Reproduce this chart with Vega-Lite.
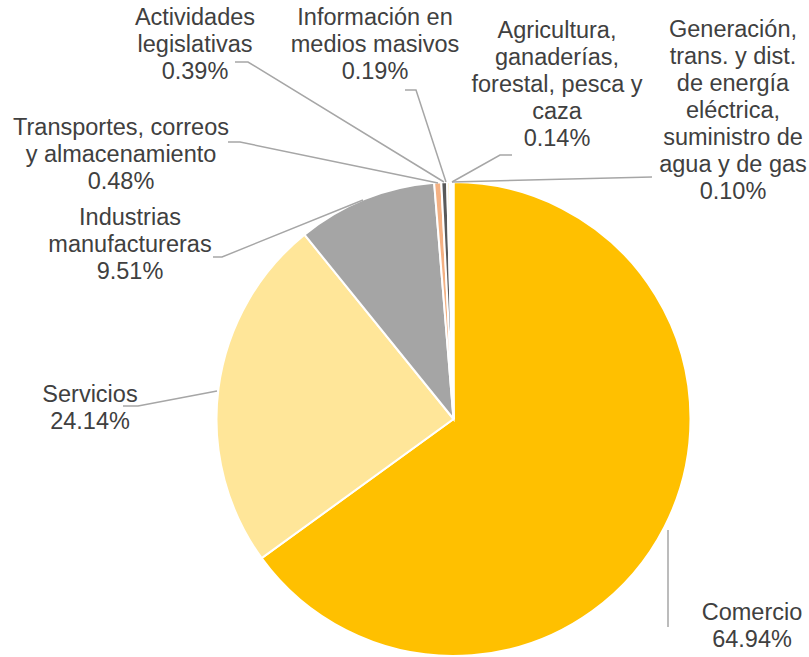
{
  "$schema": "https://vega.github.io/schema/vega-lite/v6.json",
  "autosize": {"type": "none"},
  "width": 474,
  "height": 474,
  "padding": {"left": 216.5, "top": 182, "right": 118.5, "bottom": 1},
  "background": "white",
  "config": {"view": {"stroke": null}},
  "datasets": {
    "slices": [
      {"sector": "Comercio", "value": 64.94, "ord": 1, "lbl": "Comercio\n64.94%", "lx": 298.5, "ly": -194},
      {"sector": "Servicios", "value": 24.14, "ord": 2, "lbl": "Servicios\n24.14%", "lx": -363.5, "ly": 24},
      {"sector": "Industrias manufactureras", "value": 9.51, "ord": 3, "lbl": "Industrias\nmanufactureras\n9.51%", "lx": -323.5, "ly": 201},
      {"sector": "Transportes, correos y almacenamiento", "value": 0.48, "ord": 4, "lbl": "Transportes, correos\ny almacenamiento\n0.48%", "lx": -332.5, "ly": 291},
      {"sector": "Actividades legislativas", "value": 0.39, "ord": 5, "lbl": "Actividades\nlegislativas\n0.39%", "lx": -258.5, "ly": 401},
      {"sector": "Información en medios masivos", "value": 0.19, "ord": 6, "lbl": "Información en\nmedios masivos\n0.19%", "lx": -78.5, "ly": 401},
      {"sector": "Agricultura, ganaderías, forestal, pesca y caza", "value": 0.14, "ord": 7, "lbl": "Agricultura,\nganaderías,\nforestal, pesca y\ncaza\n0.14%", "lx": 103.5, "ly": 388},
      {"sector": "Generación, trans. y dist. de energía eléctrica, suministro de agua y de gas", "value": 0.10, "ord": 8, "lbl": "Generación,\ntrans. y dist.\nde energía\neléctrica,\nsuministro de\nagua y de gas\n0.10%", "lx": 279.5, "ly": 389}
    ],
    "leaders": [
      {"g": "act", "o": 1, "x": -218.5, "y": 357},
      {"g": "act", "o": 2, "x": -205.5, "y": 357},
      {"g": "act", "o": 3, "x": -9.5, "y": 237},
      {"g": "inf", "o": 1, "x": -48.5, "y": 329},
      {"g": "inf", "o": 2, "x": -37.5, "y": 329},
      {"g": "inf", "o": 3, "x": -7.5, "y": 237},
      {"g": "tra", "o": 1, "x": -225.5, "y": 277},
      {"g": "tra", "o": 2, "x": -213.5, "y": 277},
      {"g": "tra", "o": 3, "x": -15.5, "y": 236},
      {"g": "ind", "o": 1, "x": -240.5, "y": 162},
      {"g": "ind", "o": 2, "x": -231.5, "y": 162},
      {"g": "ind", "o": 3, "x": -90.5, "y": 219},
      {"g": "agr", "o": 1, "x": 58.5, "y": 264},
      {"g": "agr", "o": 2, "x": 46.5, "y": 264},
      {"g": "agr", "o": 3, "x": -1.5, "y": 237},
      {"g": "gen", "o": 1, "x": 198.5, "y": 242},
      {"g": "gen", "o": 2, "x": -1.5, "y": 237},
      {"g": "ser", "o": 1, "x": -330.5, "y": 13},
      {"g": "ser", "o": 2, "x": -315.5, "y": 13},
      {"g": "ser", "o": 3, "x": -236.5, "y": 28},
      {"g": "com", "o": 1, "x": 214.5, "y": -111},
      {"g": "com", "o": 2, "x": 214.5, "y": -208}
    ]
  },
  "layer": [
    {
      "data": {"name": "slices"},
      "mark": {"type": "arc", "stroke": "white", "strokeWidth": 2},
      "encoding": {
        "theta": {"field": "value", "type": "quantitative", "stack": true},
        "order": {"field": "ord", "type": "quantitative"},
        "color": {
          "field": "sector", "type": "nominal", "legend": null,
          "scale": {
            "domain": ["Comercio", "Servicios", "Industrias manufactureras", "Transportes, correos y almacenamiento", "Actividades legislativas", "Información en medios masivos", "Agricultura, ganaderías, forestal, pesca y caza", "Generación, trans. y dist. de energía eléctrica, suministro de agua y de gas"],
            "range": ["#FFC000", "#FFE699", "#A5A5A5", "#F4B183", "#595959", "#FFF2CC", "#FBE5D6", "#EDEDED"]
          }
        }
      }
    },
    {
      "data": {"name": "leaders"},
      "mark": {"type": "line", "color": "#A6A6A6", "strokeWidth": 1.5},
      "encoding": {
        "x": {"field": "x", "type": "quantitative", "scale": {"domain": [-237, 237]}, "axis": null},
        "y": {"field": "y", "type": "quantitative", "scale": {"domain": [-237, 237]}, "axis": null},
        "detail": {"field": "g", "type": "nominal"},
        "order": {"field": "o", "type": "quantitative"}
      }
    },
    {
      "data": {"name": "slices"},
      "mark": {"type": "text", "font": "Liberation Sans", "fontSize": 23.5, "lineHeight": 27, "lineBreak": "\n", "color": "#404040", "align": "center", "baseline": "middle"},
      "encoding": {
        "x": {"field": "lx", "type": "quantitative", "scale": {"domain": [-237, 237]}, "axis": null},
        "y": {"field": "ly", "type": "quantitative", "scale": {"domain": [-237, 237]}, "axis": null},
        "text": {"field": "lbl"}
      }
    }
  ]
}
